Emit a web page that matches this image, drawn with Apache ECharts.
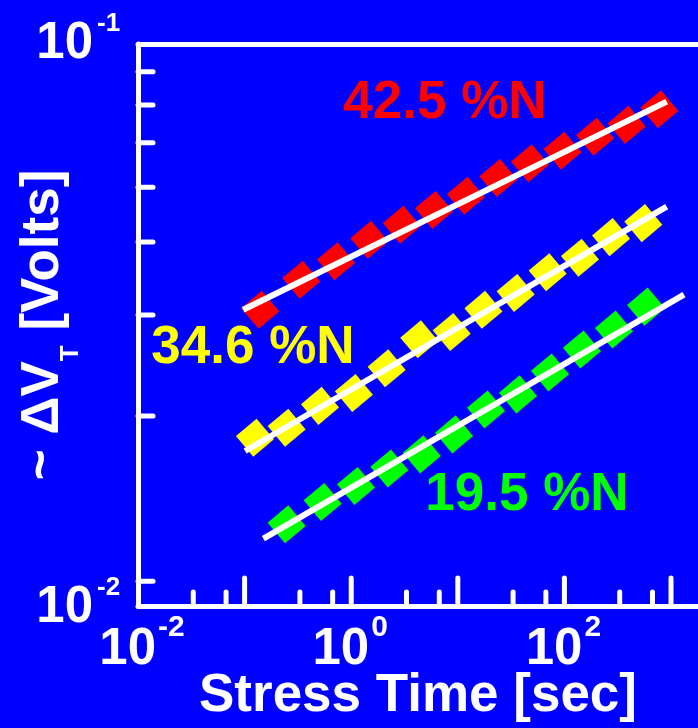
<!DOCTYPE html>
<html>
<head>
<meta charset="utf-8">
<style>
  html, body { margin: 0; padding: 0; background: #0000ff; }
  #chart { width: 698px; height: 728px; }
</style>
<script src="https://cdn.jsdelivr.net/npm/echarts@6/dist/echarts.min.js"></script>
</head>
<body>
<div id="chart"></div>
<script>
// Threshold-voltage shift vs. stress time for three nitrogen contents
const timeRed    = [0.14, 0.34, 0.72, 1.48, 2.98, 5.98, 11.9, 24.0, 47.6, 96, 194, 384, 777];
const dvtRed     = [0.0320, 0.0364, 0.0394, 0.0432, 0.0461, 0.0491, 0.0522, 0.0563, 0.0600, 0.0633, 0.0672, 0.0707, 0.0756];
const timeYellow = [0.125, 0.248, 0.51, 1.06, 2.15, 4.35, 8.77, 17.4, 34.9, 69.7, 140, 274, 550];
const dvtYellow  = [0.0185, 0.0193, 0.0212, 0.0224, 0.0249, 0.0282, 0.0291, 0.0320, 0.0344, 0.0376, 0.0400, 0.0437, 0.0464];
const timeGreen  = [0.248, 0.54, 1.11, 2.28, 4.59, 9.21, 18.4, 36.7, 73.3, 146, 292, 583];
const dvtGreen   = [0.01276, 0.01404, 0.01504, 0.01621, 0.01722, 0.01876, 0.02088, 0.02227, 0.02446, 0.02699, 0.02940, 0.03244];

// Power-law fit lines (end points)
const fitRed    = [[0.097, 0.0320], [911, 0.0781]];
const fitYellow = [[0.101, 0.01747], [911, 0.0498]];
const fitGreen  = [[0.150, 0.0120], [1324, 0.03415]];

const seriesNames = ['42.5 %N', '34.6 %N', '19.5 %N'];

// Axis ticks and labels
const xRange = [0.01, 1791];
const yRange = [0.00899, 0.1];
const xMajorTicks = [0.1, 1, 10, 100, 1000];
const xMinorTicks = [0.033, 0.067, 0.33, 0.67, 3.3, 6.7, 33, 67, 330, 670];
const yTicks = [0.0888, 0.077, 0.0655, 0.0541, 0.0428, 0.0313, 0.0203, 0.01];
const xLabelValues = [0.01, 1, 100];
const xLabelExps = ['-2', '0', '2'];
const yLabelValues = [0.1, 0.01];
const yLabelExps = ['-1', '-2'];

const FONT = '"Liberation Sans", Arial, sans-serif';
const WHITE = '#ffffff';

function zip(xs, ys) { return xs.map((x, i) => [x, ys[i]]); }

function tickSeries(values, dir, len) {
  return {
    type: 'custom', coordinateSystem: 'cartesian2d', silent: true, clip: false, z: 5,
    data: values.map(v => dir === 'x' ? [v, 0.05] : [1, v]),
    renderItem(params, api) {
      const cs = params.coordSys;
      const p = api.coord([api.value(0), api.value(1)]);
      let shape;
      if (dir === 'x') {
        const yb = cs.y + cs.height;
        shape = { x1: p[0], y1: yb, x2: p[0], y2: yb - len };
      } else {
        shape = { x1: cs.x, y1: p[1], x2: cs.x + len, y2: p[1] };
      }
      return { type: 'line', shape, style: { stroke: WHITE, lineWidth: 5, lineCap: 'round' } };
    }
  };
}

function txt(text, x, y, size, align) {
  return {
    type: 'text',
    style: {
      text, x, y, fill: WHITE,
      font: 'bold ' + size + 'px ' + FONT,
      align, verticalAlign: 'middle',
      textAlign: align, textVerticalAlign: 'middle'
    }
  };
}

const xLabelSeries = {
  type: 'custom', coordinateSystem: 'cartesian2d', silent: true, clip: false, z: 6,
  data: xLabelValues.map(v => [v, 0.05]),
  renderItem(params, api) {
    const cs = params.coordSys;
    const p = api.coord([api.value(0), api.value(1)]);
    const yb = cs.y + cs.height;
    const i = params.dataIndex;
    return {
      type: 'group',
      children: [
        txt('10', p[0] + 18, yb + 44, 51, 'right'),
        txt(xLabelExps[i], p[0] + 20, yb + 22, 30, 'left')
      ]
    };
  }
};

const yLabelShift = [0, 27];
const yLabelSeries = {
  type: 'custom', coordinateSystem: 'cartesian2d', silent: true, clip: false, z: 6,
  data: yLabelValues.map(v => [1, v]),
  renderItem(params, api) {
    const cs = params.coordSys;
    const p = api.coord([api.value(0), api.value(1)]);
    const i = params.dataIndex;
    const yc = p[1] + yLabelShift[i];
    return {
      type: 'group',
      children: [
        txt('10', cs.x - 45, yc, 51, 'right'),
        txt(yLabelExps[i], cs.x - 41, yc - 20, 26, 'left')
      ]
    };
  }
};

function markerSeries(data, color) {
  return {
    type: 'scatter', data, symbol: 'rect', symbolSize: 27, symbolRotate: 40,
    itemStyle: { color, opacity: 1 }, z: 2, silent: true
  };
}

function fitSeries(data) {
  return {
    type: 'line', data, showSymbol: false, symbol: 'none', z: 3, silent: true,
    lineStyle: { color: WHITE, width: 6, cap: 'butt', opacity: 1 }
  };
}

const option = {
  backgroundColor: '#0000ff',
  animation: false,
  grid: { left: 138, top: 44, width: 560, height: 563, containLabel: false },
  xAxis: [
    {
      type: 'log', logBase: 10, min: xRange[0], max: xRange[1],
      axisLine: { show: true, onZero: false, lineStyle: { color: WHITE, width: 5 } },
      axisTick: { show: false }, axisLabel: { show: false }, splitLine: { show: false },
      name: 'Stress Time [sec]', nameLocation: 'middle', nameGap: 64,
      nameTextStyle: { color: WHITE, fontSize: 53, fontWeight: 'bold', fontFamily: FONT }
    },
    {
      type: 'value', position: 'top', min: 0, max: 1,
      axisLine: { show: true, lineStyle: { color: WHITE, width: 5 } },
      axisTick: { show: false }, axisLabel: { show: false }, splitLine: { show: false }
    }
  ],
  yAxis: {
    type: 'log', logBase: 10, min: yRange[0], max: yRange[1],
    axisLine: { show: true, onZero: false, lineStyle: { color: WHITE, width: 5 } },
    axisTick: { show: false }, axisLabel: { show: false }, splitLine: { show: false },
    name: '{m|~ ΔV}{t|T}{m| [Volts]}', nameLocation: 'middle', nameRotate: 90, nameGap: 54,
    nameTextStyle: {
      color: WHITE, fontSize: 53, fontWeight: 'bold', fontFamily: FONT,
      rich: {
        m: { color: WHITE, fontSize: 53, fontWeight: 'bold', fontFamily: FONT },
        t: { color: WHITE, fontSize: 26, fontWeight: 'bold', fontFamily: FONT,
             verticalAlign: 'top', padding: [56, 0, 0, 0] }
      }
    }
  },
  graphic: [
    { type: 'text', x: 445, y: 103, silent: true,
      style: { text: seriesNames[0], fill: '#ff0000', font: 'bold 53px ' + FONT,
               align: 'center', verticalAlign: 'middle', textAlign: 'center', textVerticalAlign: 'middle' } },
    { type: 'text', x: 253, y: 348, silent: true,
      style: { text: seriesNames[1], fill: '#ffff00', font: 'bold 53px ' + FONT,
               align: 'center', verticalAlign: 'middle', textAlign: 'center', textVerticalAlign: 'middle' } },
    { type: 'text', x: 527, y: 495, silent: true,
      style: { text: seriesNames[2], fill: '#00ff00', font: 'bold 53px ' + FONT,
               align: 'center', verticalAlign: 'middle', textAlign: 'center', textVerticalAlign: 'middle' } }
  ],
  series: [
    markerSeries(zip(timeRed, dvtRed), '#ff0000'),
    markerSeries(zip(timeYellow, dvtYellow), '#ffff00'),
    markerSeries(zip(timeGreen, dvtGreen), '#00ff00'),
    fitSeries(fitRed),
    fitSeries(fitYellow),
    fitSeries(fitGreen),
    tickSeries(xMajorTicks, 'x', 28),
    tickSeries(xMinorTicks, 'x', 14),
    tickSeries(yTicks, 'y', 15),
    xLabelSeries,
    yLabelSeries
  ]
};

const chart = echarts.init(document.getElementById('chart'), null, { renderer: 'canvas' });
chart.setOption(option);
</script>
</body>
</html>
